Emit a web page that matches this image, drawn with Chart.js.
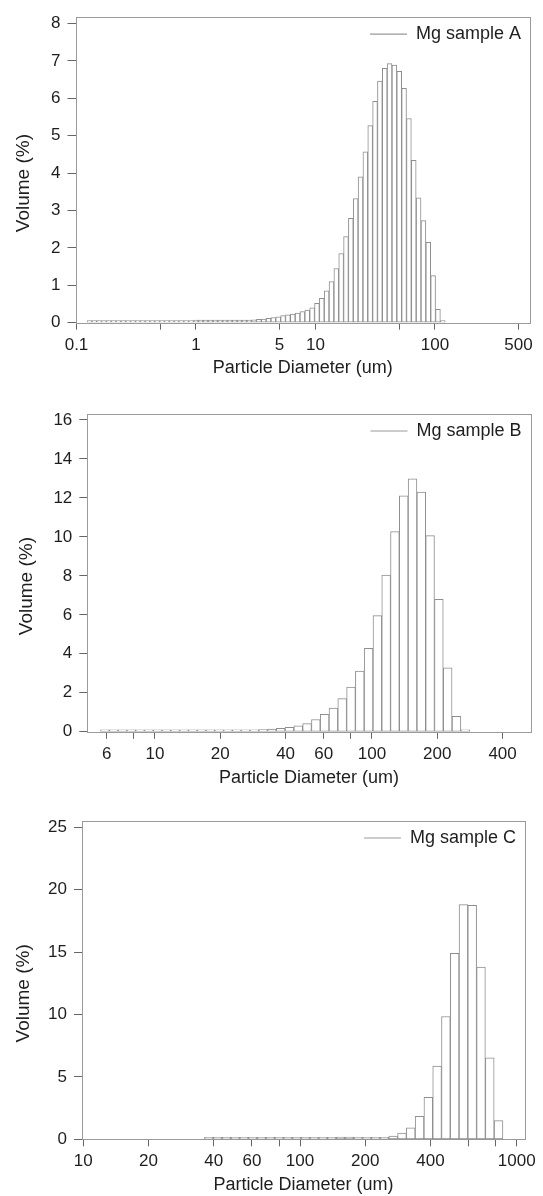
<!DOCTYPE html>
<html>
<head>
<meta charset="utf-8">
<title>Particle size distributions</title>
<script src="https://cdn.jsdelivr.net/npm/chart.js@4.4.1/dist/chart.umd.min.js"></script>
<style>
  html, body { margin: 0; padding: 0; background: #fff; }
  body { width: 543px; height: 1196px; position: relative; overflow: hidden; }
  canvas { position: absolute; left: 0; display: block; }
</style>
</head>
<body>
<canvas id="chartA" width="543" height="390" style="top:0px"></canvas>
<canvas id="chartB" width="543" height="410" style="top:390px"></canvas>
<canvas id="chartC" width="543" height="396" style="top:800px"></canvas>
<script>
// size channel boundaries (um)
const channelEdges = [
  0.1225, 0.1345, 0.1476, 0.1620, 0.1779, 0.1953, 0.2143, 0.2353, 0.2583, 0.2835,
  0.3112, 0.3416, 0.375, 0.412, 0.452, 0.496, 0.545, 0.598, 0.656, 0.721,
  0.791, 0.868, 0.953, 1.047, 1.149, 1.261, 1.385, 1.520, 1.668, 1.832,
  2.011, 2.207, 2.423, 2.660, 2.920, 3.205, 3.519, 3.863, 4.240, 4.655,
  5.110, 5.610, 6.158, 6.760, 7.421, 8.147, 8.943, 9.817, 10.78, 11.83,
  12.99, 14.26, 15.65, 17.18, 18.86, 20.70, 22.73, 24.95, 27.39, 30.07,
  33.01, 36.24, 39.78, 43.67, 47.94, 52.62, 57.77, 63.41, 69.61, 76.42,
  83.89, 92.09, 101.1, 111.0, 121.8, 133.7, 146.8, 161.2, 176.9, 194.2,
  213.2, 234.1, 256.9, 282.1, 309.6, 339.9, 373.1, 409.6, 449.7, 493.6,
  541.9, 594.9, 653.0, 716.9, 786.9, 863.9
];

// sample A, first channel 0.1225 um
const firstChannelA = 0;
const volumeA = [
  0.01, 0.01, 0.01, 0.01, 0.01, 0.01, 0.01, 0.01,
  0.04, 0.04, 0.04, 0.04, 0.04, 0.04,
  0.05, 0.05, 0.05, 0.05, 0.05, 0.05, 0.06, 0.06,
  0.07, 0.07, 0.07, 0.07, 0.07, 0.07, 0.07, 0.07, 0.07, 0.07, 0.07, 0.07,
  0.08, 0.09, 0.10, 0.12, 0.14, 0.16, 0.19, 0.21, 0.23, 0.26,
  0.30, 0.34, 0.40, 0.52, 0.65, 0.85, 1.10, 1.45, 1.85, 2.30,
  2.79, 3.32, 3.90, 4.57, 5.27, 5.92, 6.46, 6.80, 6.93, 6.89,
  6.72, 6.27, 5.46, 4.34, 3.34, 2.73, 2.15, 1.26, 0.36, 0
];

// sample B, first channel 5.610 um
const firstChannelB = 41;
const volumeB = [
  0, 0, 0, 0, 0, 0, 0, 0, 0, 0,
  0.02, 0.02, 0.03, 0.03, 0.04, 0.05, 0.07, 0.09, 0.12, 0.14,
  0.18, 0.23, 0.30, 0.42, 0.63, 0.90, 1.22, 1.70, 2.30, 3.12,
  4.28, 5.96, 8.04, 10.27, 12.10, 12.97, 12.30, 10.06, 6.80, 3.28,
  0.79, 0
];

// sample C, first channel 36.24 um
const firstChannelC = 61;
const volumeC = [
  0, 0, 0, 0, 0, 0, 0, 0,
  0.03, 0.05, 0.07, 0.10, 0.12, 0.14, 0.16, 0.17, 0.17, 0.16,
  0.15, 0.14, 0.15, 0.25, 0.49, 0.92, 1.85, 3.37, 5.86, 9.84,
  14.9, 18.8, 18.75, 13.8, 6.53, 1.5
];

// axis ticks
const xTicksA = [0.1, 0.5, 1, 5, 10, 50, 100, 500];
const xLabelsA = [0.1, 1, 5, 10, 100, 500];
const yTicksA = [0, 1, 2, 3, 4, 5, 6, 7, 8];

const xTicksB = [6, 8, 10, 20, 40, 60, 80, 100, 200, 400];
const xLabelsB = [6, 10, 20, 40, 60, 100, 200, 400];
const yTicksB = [0, 2, 4, 6, 8, 10, 12, 14, 16];

const xTicksC = [10, 20, 40, 60, 80, 100, 200, 400, 600, 800, 1000];
const xLabelsC = [10, 20, 40, 60, 100, 200, 400, 1000];
const yTicksC = [0, 5, 10, 15, 20, 25];

const FONT = '"Liberation Sans", Arial, Helvetica, sans-serif';
const TEXT = '#1e1e1e';
Chart.defaults.font.family = FONT;
Chart.defaults.color = TEXT;

// plot box around the chart area
const frame = {
  id: 'frame',
  beforeDatasetsDraw(chart) {
    const { ctx, chartArea: a } = chart;
    ctx.save();
    ctx.strokeStyle = '#9a9a9a';
    ctx.lineWidth = 1;
    const l = Math.round(a.left) + 0.5, t = Math.round(a.top) + 0.5;
    ctx.strokeRect(l, t, Math.round(a.right) - Math.round(a.left), Math.round(a.bottom) - Math.round(a.top));
    ctx.restore();
  }
};

// legend sitting inside the top right corner of the plot
const insideLegend = {
  id: 'insideLegend',
  afterDatasetsDraw(chart) {
    const { ctx, chartArea: a } = chart;
    const label = chart.data.datasets[0].label;
    ctx.save();
    ctx.font = '18px ' + FONT;
    const w = ctx.measureText(label).width;
    const textX = a.right - 9 - w;
    const y = a.top + 17;
    ctx.strokeStyle = '#9a9a9a';
    ctx.lineWidth = 1.2;
    ctx.beginPath();
    ctx.moveTo(textX - 46, y);
    ctx.lineTo(textX - 9, y);
    ctx.stroke();
    ctx.fillStyle = TEXT;
    ctx.textBaseline = 'middle';
    ctx.fillText(label, textX, y);
    ctx.restore();
  }
};

function makeChart(id, cfg) {
  const canvas = document.getElementById(id);
  const edges = channelEdges.slice(cfg.first, cfg.first + cfg.values.length + 1);
  const points = cfg.values.map((v, i) => ({ x: Math.sqrt(edges[i] * edges[i + 1]), y: v }));

  return new Chart(canvas, {
    type: 'bar',
    data: {
      datasets: [{
        label: cfg.label,
        data: points,
        backgroundColor: '#ffffff',
        borderColor: '#8e8e8e',
        borderWidth: 1,
        borderSkipped: false,
        minBarLength: 2,
        barPercentage: 1,
        categoryPercentage: 1
      }]
    },
    options: {
      responsive: false,
      animation: false,
      events: [],
      layout: { padding: { top: cfg.area.top, right: 543 - cfg.area.right, left: 0, bottom: 0 } },
      plugins: { legend: { display: false }, tooltip: { enabled: false } },
      scales: {
        x: {
          type: 'logarithmic',
          min: cfg.xMin,
          max: cfg.xMax,
          offset: false,
          afterBuildTicks: (s) => { s.ticks = cfg.xTicks.map((v) => ({ value: v })); },
          afterFit: (s) => { s.height = canvas.height - cfg.area.bottom; },
          ticks: {
            autoSkip: false,
            maxRotation: 0,
            minRotation: 0,
            padding: 5,
            color: TEXT,
            font: { size: 17 },
            callback: (v) => (cfg.xLabels.includes(v) ? String(v) : '')
          },
          grid: { offset: false, drawOnChartArea: false, drawTicks: true, tickLength: 7, color: '#666' },
          border: { display: false },
          title: {
            display: true,
            text: 'Particle Diameter (um)',
            color: TEXT,
            font: { size: 18 },
            padding: { top: 0, bottom: cfg.xTitlePad }
          }
        },
        y: {
          type: 'linear',
          min: 0,
          max: cfg.yMax,
          afterBuildTicks: (s) => { s.ticks = cfg.yTicks.map((v) => ({ value: v })); },
          afterFit: (s) => { s.width = cfg.area.left; },
          ticks: { padding: 7, color: TEXT, font: { size: 17 } },
          grid: { drawOnChartArea: false, drawTicks: true, tickLength: 8, color: '#666' },
          border: { display: false },
          title: {
            display: true,
            text: 'Volume (%)     ',
            color: TEXT,
            font: { size: 19 },
            padding: { top: cfg.yTitlePad, bottom: 0 }
          }
        }
      }
    },
    plugins: [frame, insideLegend]
  });
}

makeChart('chartA', {
  label: 'Mg sample A',
  first: firstChannelA,
  values: volumeA,
  xMin: 0.0981, xMax: 624,
  xTicks: xTicksA, xLabels: xLabelsA,
  yMax: 8.17, yTicks: yTicksA,
  area: { left: 75.5, top: 8.3, right: 530, bottom: 322.7 },
  xTitlePad: 10.9, yTitlePad: 12.2
});

makeChart('chartB', {
  label: 'Mg sample B',
  first: firstChannelB,
  values: volumeB,
  xMin: 4.876, xMax: 538,
  xTicks: xTicksB, xLabels: xLabelsB,
  yMax: 16.3, yTicks: yTicksB,
  area: { left: 87.3, top: 24, right: 530.5, bottom: 341.8 },
  xTitlePad: 10.9, yTitlePad: 14.9
});

makeChart('chartC', {
  label: 'Mg sample C',
  first: firstChannelC,
  values: volumeC,
  xMin: 9.863, xMax: 1092,
  xTicks: xTicksC, xLabels: xLabelsC,
  yMax: 25.5, yTicks: yTicksC,
  area: { left: 82, top: 21, right: 525, bottom: 339.3 },
  xTitlePad: 0, yTitlePad: 12.2
});
</script>
</body>
</html>
